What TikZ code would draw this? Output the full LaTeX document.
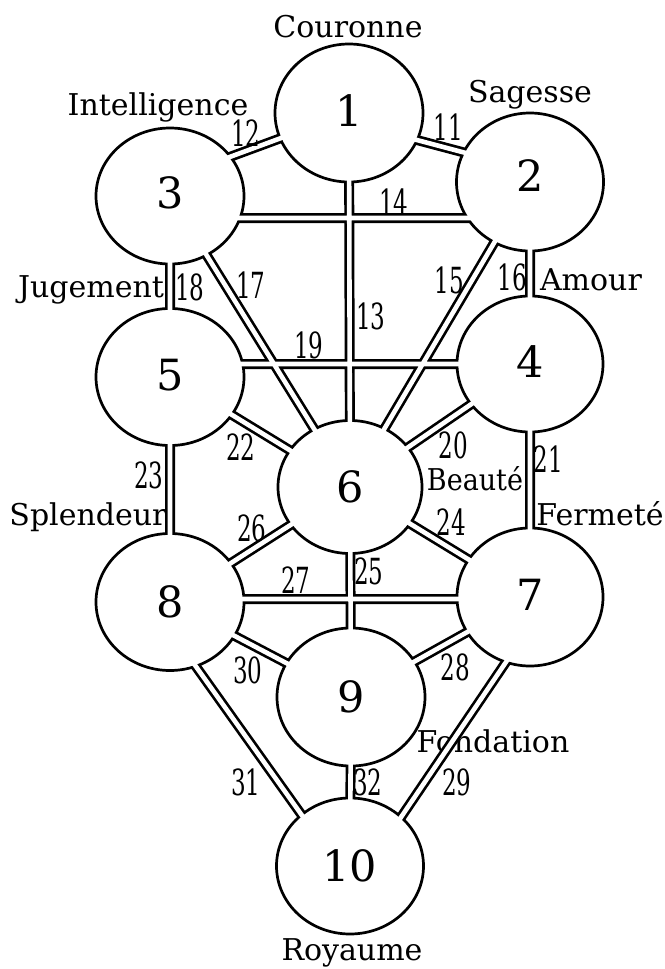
\documentclass[tikz,border=0pt]{standalone}
\usepackage{fontspec}
\setmainfont{DejaVu Serif}
\usepackage{graphicx}
\usetikzlibrary{shapes.geometric}
\pgfdeclarelayer{lab}
\pgfdeclarelayer{band}
\pgfdeclarelayer{cut}
\pgfdeclarelayer{top}
\pgfsetlayers{lab,band,main,cut,top}
\newcommand\pn[1]{\scalebox{0.64}[1]{#1}}
\begin{document}
\begin{tikzpicture}[x=1pt,y=-1pt,
  sephira/.style={ellipse, draw, line width=2.7pt, fill=white, inner sep=0pt},
  digit/.style={font=\fontsize{43}{43}\selectfont, inner sep=0pt},
  lbl/.style={font=\fontsize{30}{30}\selectfont, inner sep=0pt, anchor=base},
  pnum/.style={font=\fontsize{36}{36}\selectfont, inner sep=0pt},
  bandout/.style={line width=10pt, black},
  bandin/.style={line width=4.6pt, white}]
\useasboundingbox (0,0) rectangle (664,969);
% circles
\node[sephira, minimum width=148pt, minimum height=138pt] (n1) at (349,113) {};
\node[sephira, minimum width=147pt, minimum height=138pt] (n2) at (530,182) {};
\node[sephira, minimum width=148pt, minimum height=136pt] (n3) at (170,196) {};
\node[sephira, minimum width=146pt, minimum height=136pt] (n4) at (530,364) {};
\node[sephira, minimum width=148pt, minimum height=137pt] (n5) at (170,377) {};
\node[sephira, minimum width=144pt, minimum height=133pt] (n6) at (350,487) {};
\node[sephira, minimum width=146pt, minimum height=138pt] (n7) at (530,597) {};
\node[sephira, minimum width=148pt, minimum height=137pt] (n8) at (170,602) {};
\node[sephira, minimum width=148pt, minimum height=138pt] (n9) at (351,697) {};
\node[sephira, minimum width=147pt, minimum height=136pt] (n10) at (350,866) {};
% anchor points of the horizontal paths
\coordinate (p14a) at (170,218);
\coordinate (p14b) at (530,218);
\coordinate (p19a) at (170,364);
\coordinate (p19b) at (530,364);
\coordinate (p27a) at (170,599);
\coordinate (p27b) at (530,599);
\newcommand\treepaths{
  ([yshift=-9pt]n1.center) -- ([yshift=12pt]n2.center)
  (n1.center) -- ([yshift=17pt]n3.center)
  (n1.center) -- (n6.center)
  (p14a) -- (p14b)
  (n3.center) -- (n5.center)
  (n3.center) -- (n6.center)
  (n2.center) -- (n6.center)
  (n2.center) -- (n4.center)
  (p19a) -- (p19b)
  (n5.center) -- (n6.center)
  (n4.center) -- (n6.center)
  (n4.center) -- (n7.center)
  (n5.center) -- (n8.center)
  (n8.center) -- (n6.center)
  (n7.center) -- (n6.center)
  (p27a) -- (p27b)
  (n6.center) -- (n9.center)
  (n8.center) -- (n9.center)
  (n7.center) -- (n9.center)
  ([xshift=-20pt]n8.center) -- ([xshift=-12pt]n10.center)
  ([xshift=20pt]n7.center) -- ([xshift=18pt]n10.center)
  (n9.center) -- (n10.center)
}
\begin{pgfonlayer}{band}
\draw[bandout] \treepaths;
\end{pgfonlayer}
\begin{pgfonlayer}{cut}
\draw[bandin] \treepaths;
\end{pgfonlayer}
\begin{pgfonlayer}{top}
\node[digit] (d1) at ([yshift=2pt]n1.center) {1};
\node[digit] (d2) at ([yshift=6pt]n2.center) {2};
\node[digit] (d3) at ([yshift=3pt]n3.center) {3};
\node[digit] (d4) at ([yshift=2pt]n4.center) {4};
\node[digit] (d5) at ([yshift=2pt]n5.center) {5};
\node[digit] (d6) at (n6) {6};
\node[digit] (d7) at ([yshift=2pt]n7.center) {7};
\node[digit] (d8) at (n8) {8};
\node[digit] (d9) at (n9) {9};
\node[digit] (d10) at (n10) {10};
\node[pnum] (l12) at (246,133) {\pn{12}};
\node[pnum] (l11) at (448,127) {\pn{11}};
\node[pnum] (l14) at (394,202) {\pn{14}};
\node[pnum] (l18) at (190,287) {\pn{18}};
\node[pnum] (l17) at (251,285) {\pn{17}};
\node[pnum] (l13) at (371,316) {\pn{13}};
\node[pnum] (l15) at (449,280) {\pn{15}};
\node[pnum] (l16) at (512,277) {\pn{16}};
\node[pnum] (l19) at (309,345) {\pn{19}};
\node[pnum] (l22) at (241,447) {\pn{22}};
\node[pnum] (l20) at (453,445) {\pn{20}};
\node[pnum] (l21) at (548,459) {\pn{21}};
\node[pnum] (l23) at (149,475) {\pn{23}};
\node[pnum] (l26) at (252,528) {\pn{26}};
\node[pnum] (l24) at (451,522) {\pn{24}};
\node[pnum] (l27) at (296,580) {\pn{27}};
\node[pnum] (l25) at (369,571) {\pn{25}};
\node[pnum] (l30) at (248,670) {\pn{30}};
\node[pnum] (l28) at (455,667) {\pn{28}};
\node[pnum] (l31) at (246,782) {\pn{31}};
\node[pnum] (l32) at (368,782) {\pn{32}};
\node[pnum] (l29) at (457,782) {\pn{29}};
\end{pgfonlayer}
\begin{pgfonlayer}{lab}
\node[lbl] (tCouronne) at (348,37) {Couronne};
\node[lbl] (tIntel) at (158,115) {Intelligence};
\node[lbl] (tSagesse) at (530,102) {Sagesse};
\node[lbl] (tJugement) at (91,297) {Jugement};
\node[lbl] (tAmour) at (591,290) {Amour};
\node[lbl] (tBeaute) at (475,490) {\scalebox{0.9}[1]{Beauté}};
\node[lbl] (tSplendeur) at (88,525) {Splendeur};
\node[lbl] (tFermete) at (600,525) {Fermeté};
\node[lbl] (tFondation) at (493,752) {Fondation};
\node[lbl] (tRoyaume) at (352,960) {Royaume};
\end{pgfonlayer}
\end{tikzpicture}
\end{document}
